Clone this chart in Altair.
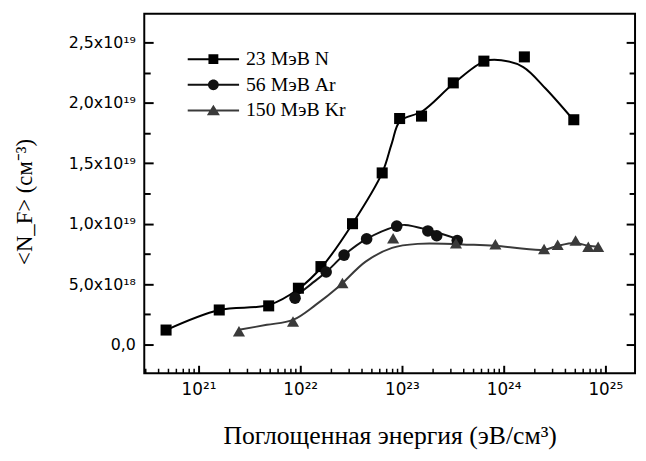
import json
import altair as alt
import pandas as pd

series_names = ["23 МэВ N", "56 МэВ Ar", "150 МэВ Kr"]

# measured points (x: eV/cm^3, y: cm^-3)
n_x = [4.8e20, 1.6e21, 4.9e21, 9.6e21, 1.6e22, 3.27e22, 6.4e22, 9.5e22, 1.56e23, 3.2e23, 6.4e23, 1.6e24, 4.9e24]
n_y = [1.2e18, 2.86e18, 3.2e18, 4.66e18, 6.45e18, 1.0e19, 1.42e19, 1.87e19, 1.89e19, 2.165e19, 2.345e19, 2.38e19, 1.86e19]

ar_x = [8.9e21, 1.8e22, 2.7e22, 4.5e22, 8.9e22, 1.8e23, 2.2e23, 3.5e23]
ar_y = [3.84e18, 6.0e18, 7.4e18, 8.74e18, 9.8e18, 9.4e18, 9.0e18, 8.6e18]

kr_x = [2.5e21, 8.5e21, 2.6e22, 8.2e22, 3.4e23, 8.3e23, 2.5e24, 3.4e24, 5.1e24, 6.8e24, 8.5e24]
kr_y = [1.1e18, 1.9e18, 5.1e18, 8.8e18, 8.37e18, 8.3e18, 7.9e18, 8.25e18, 8.6e18, 8.1e18, 8.1e18]

# smooth fitted curves
n_fit_x = [4.8e20, 1.6e21, 4.9e21, 9.6e21, 1.66e22, 3.27e22, 6.4e22, 7.97e22, 9.6e22, 1.59e23, 3.2e23, 6.5e23, 9.5e23, 1.56e24, 2.6e24, 4.8e24]
n_fit_y = [1.2e18, 2.86e18, 3.27e18, 4.6e18, 6.5e18, 1.0e19, 1.42e19, 1.667e19, 1.85e19, 1.93e19, 2.157e19, 2.345e19, 2.353e19, 2.296e19, 2.116e19, 1.863e19]

ar_fit_x = [8.7e21, 1.28e22, 1.8e22, 2.7e22, 4.5e22, 8.9e22, 1.07e23, 1.8e23, 3.5e23]
ar_fit_y = [3.9e18, 5.0e18, 6.0e18, 7.4e18, 8.74e18, 9.8e18, 9.9e18, 9.5e18, 8.74e18]

kr_fit_x = [2.5e21, 4.7e21, 8.5e21, 1.43e22, 2.4e22, 4.4e22, 8.0e22, 1.43e23, 5.1e23, 8.3e23, 2.5e24, 3.4e24, 5.1e24, 6.8e24, 8.5e24]
kr_fit_y = [1.23e18, 1.63e18, 2.04e18, 3.3e18, 4.8e18, 6.86e18, 8.0e18, 8.33e18, 8.25e18, 8.17e18, 7.84e18, 8.17e18, 8.4e18, 8.17e18, 8.1e18]

x_major_vals = [1e21, 1e22, 1e23, 1e24, 1e25]
x_tick_labels = ["10²¹", "10²²", "10²³", "10²⁴", "10²⁵"]
x_minor_vals = [k * 10.0 ** e for e in range(20, 25) for k in range(2, 10)
                if 2.93e20 < k * 10.0 ** e < 1.96e25]
y_major_vals = [0, 5e18, 1e19, 1.5e19, 2e19, 2.5e19]
y_tick_labels = ["0,0", "5,0x10¹⁸", "1,0x10¹⁹", "1,5x10¹⁹", "2,0x10¹⁹", "2,5x10¹⁹"]
y_minor_vals = [2.5e18, 7.5e18, 1.25e19, 1.75e19, 2.25e19]

colors = ["#000000", "#111111", "#3a3a3a"]

pts = pd.concat([
    pd.DataFrame({"x": n_x, "y": n_y, "series": series_names[0]}),
    pd.DataFrame({"x": ar_x, "y": ar_y, "series": series_names[1]}),
    pd.DataFrame({"x": kr_x, "y": kr_y, "series": series_names[2]}),
])
fits = pd.concat([
    pd.DataFrame({"x": n_fit_x, "y": n_fit_y, "series": series_names[0]}),
    pd.DataFrame({"x": ar_fit_x, "y": ar_fit_y, "series": series_names[1]}),
    pd.DataFrame({"x": kr_fit_x, "y": kr_fit_y, "series": series_names[2]}),
])

xscale = alt.Scale(type="log", domain=[2.93e20, 1.96e25], nice=False)
yscale = alt.Scale(domain=[-2.37e18, 2.737e19], nice=False, zero=False)

x_lab_expr = f"{json.dumps(x_tick_labels, ensure_ascii=False)}[round(log(datum.value)/LN10) - 21]"
y_lab_expr = f"{json.dumps(y_tick_labels, ensure_ascii=False)}[round(datum.value/5e18)]"

common = dict(domain=False, grid=False, tickColor="black")

major_x = alt.Axis(orient="bottom", values=x_major_vals, labelExpr=x_lab_expr, tickSize=8, offset=-8,
                   tickWidth=2, labelFont="DejaVu Sans", labelFontSize=17, labelColor="black",
                   labelPadding=9, labelFlush=False, labelOverlap=False,
                   title="Поглощенная энергия (эВ/см³)", titleFont="Liberation Serif", titleFontSize=26,
                   titleFontWeight="normal", titleColor="black", titleY=79, titleBaseline="alphabetic",
                   **common)
minor_x = alt.Axis(orient="bottom", values=x_minor_vals, tickSize=5, offset=-5, tickWidth=1.5,
                   labels=False, title=None, **common)
major_left = alt.Axis(orient="left", values=y_major_vals, labelExpr=y_lab_expr, tickSize=9, offset=-9,
                      tickWidth=2, labelFont="DejaVu Sans", labelFontSize=16, labelColor="black",
                      labelPadding=9, labelFlush=False, labelOverlap=False,
                      title="<N_F> (см⁻³)", titleFont="Liberation Serif", titleFontSize=23,
                      titleFontWeight="normal", titleColor="black", titleX=-130, titleY=190,
                      titleBaseline="middle", titleAlign="center", **common)
minor_left = alt.Axis(orient="left", values=y_minor_vals, tickSize=6, offset=-6, tickWidth=2,
                      labels=False, title=None, **common)
major_right = alt.Axis(orient="right", values=y_major_vals, tickSize=9, offset=-9, tickWidth=2,
                       labels=False, title=None, **common)
minor_right = alt.Axis(orient="right", values=y_minor_vals, tickSize=6, offset=-6, tickWidth=2,
                       labels=False, title=None, **common)

legend_paths = [
    "M-2.6,-0.1H2.6V0.1H-2.6Z M-0.5,-0.5H0.5V0.5H-0.5Z",
    "M-2.6,-0.1H2.6V0.1H-2.6Z M0.55,0A0.55,0.55,0,1,1,-0.55,0A0.55,0.55,0,1,1,0.55,0Z",
    "M-2.6,-0.1H2.6V0.1H-2.6Z M0,-0.58L0.66,0.48H-0.66Z",
]

leg = alt.Legend(orient="none", legendX=60, legendY=36, title=None, symbolSize=400,
                 symbolStrokeWidth=0, labelFont="Liberation Serif", labelFontSize=20,
                 labelColor="black", labelOffset=23, rowPadding=6, padding=0)

curves = alt.Chart(fits).mark_line(interpolate="catmull-rom", strokeWidth=2).encode(
    x=alt.X("x:Q", scale=xscale, axis=major_x),
    y=alt.Y("y:Q", scale=yscale, axis=major_left),
    color=alt.Color("series:N", scale=alt.Scale(domain=series_names, range=colors), legend=None),
)

points = alt.Chart(pts).mark_point(filled=True, opacity=1).encode(
    x=alt.X("x:Q", scale=xscale, axis=minor_x),
    y=alt.Y("y:Q", scale=yscale, axis=minor_left),
    shape=alt.Shape("series:N", scale=alt.Scale(domain=series_names, range=["square", "circle", "triangle-up"]), legend=None),
    color=alt.Color("series:N", scale=alt.Scale(domain=series_names, range=colors), legend=None),
    size=alt.Size("series:N", scale=alt.Scale(domain=series_names, range=[125, 150, 240]), legend=None),
)

legend_layer = alt.Chart(pts).transform_filter("false").mark_point(filled=True, opacity=1).encode(
    y=alt.Y("y:Q", scale=yscale, axis=major_right),
    shape=alt.Shape("series:N", scale=alt.Scale(domain=series_names, range=legend_paths), legend=leg),
    color=alt.Color("series:N", scale=alt.Scale(domain=series_names, range=colors), legend=leg),
)

right_minor_layer = alt.Chart(pts).transform_filter("false").mark_point().encode(
    y=alt.Y("y:Q", scale=yscale, axis=minor_right),
)

chart = alt.layer(curves, points, legend_layer, right_minor_layer).resolve_scale(
    color="independent", shape="independent", size="independent"
).resolve_axis(x="independent", y="independent").properties(
    width=497, height=364,
    padding={"left": 138, "top": 3, "right": 3, "bottom": 78},
    autosize=alt.AutoSizeParams(type="none"),
    background="white",
).configure_view(stroke="black", strokeWidth=2)

chart.save("out.html", embed_options={"renderer": "svg", "actions": False})
